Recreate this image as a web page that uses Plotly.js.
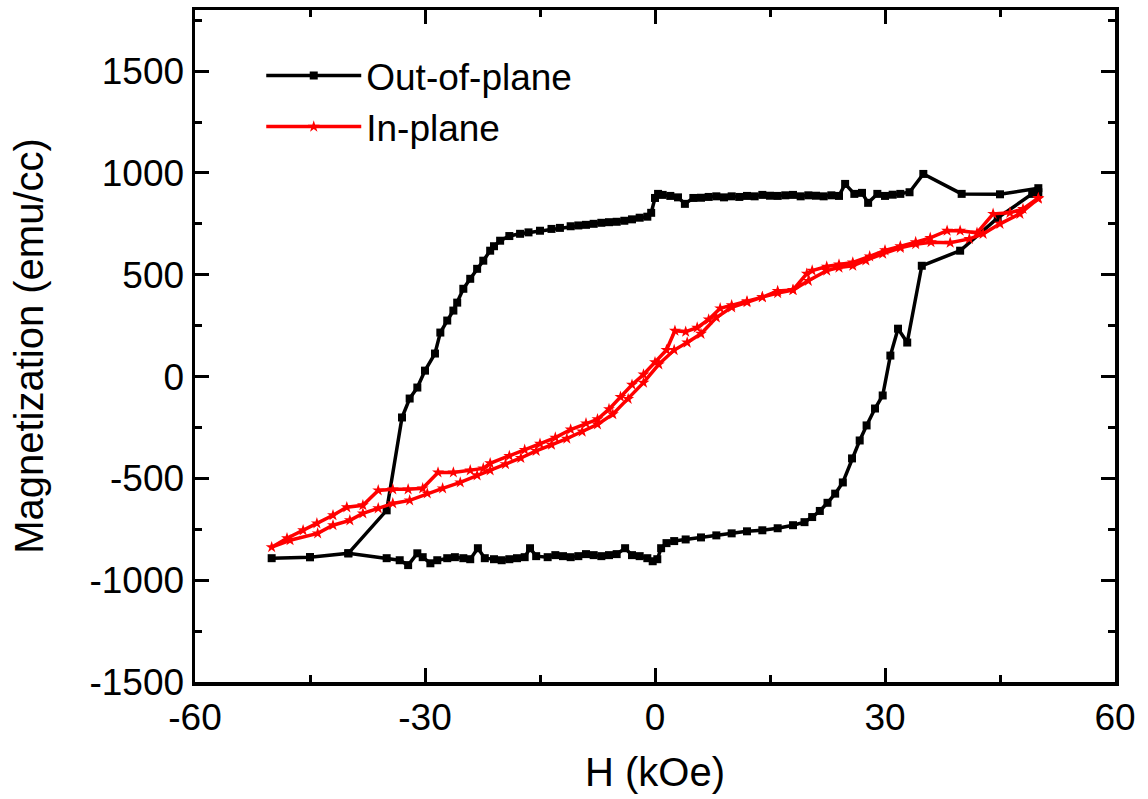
<!DOCTYPE html>
<html>
<head>
<meta charset="utf-8">
<script src="https://cdn.plot.ly/plotly-3.0.1.min.js"></script>
<style>
  html, body { margin: 0; padding: 0; background: #ffffff; }
  #chart { width: 1148px; height: 799px; }
</style>
</head>
<body>
<div id="chart"></div>
<script>
// Out-of-plane loop: field swept from +50 kOe down to -50 kOe, then back up
const outH = [
  50.0, 45.0, 40.0, 35.0, 33.2, 32.0, 31.0, 30.0, 29.0, 27.8, 27.0, 26.0, 24.8, 24.0,
  23.0, 22.0, 21.0, 20.0, 19.0, 18.0, 17.0, 16.0, 15.0, 14.0, 13.0, 12.0, 11.0, 10.0,
  9.0, 8.0, 7.0, 6.0, 5.0, 3.9, 3.0, 2.0, 1.0, 0.4, 0.0, -0.5, -1.0, -2.0, -3.0, -4.0,
  -5.0, -6.0, -7.0, -8.0, -9.0, -10.0, -11.0, -12.4, -13.5, -15.0, -16.5, -17.6, -19.0,
  -20.2, -21.0, -21.5, -22.4, -23.2, -24.1, -25.0, -25.8, -26.3, -27.1, -28.0, -28.7,
  -30.0, -31.0, -32.0, -33.0, -35.0, -40.0, -45.0, -50.0,
  -45.0, -40.0, -35.0, -33.3, -32.2, -31.0, -30.3, -29.3, -28.4, -27.1, -26.1, -25.0,
  -24.1, -23.1, -22.2, -21.0, -20.0, -19.0, -18.0, -17.0, -16.3, -15.5, -14.0, -13.0,
  -12.0, -11.0, -10.0, -9.0, -8.0, -7.0, -6.0, -5.0, -3.9, -3.0, -2.0, -1.0, -0.3, 0.3,
  0.8, 1.5, 2.5, 4.0, 6.0, 8.0, 10.0, 12.0, 14.0, 16.0, 18.0, 19.5, 20.5, 21.5, 22.5,
  23.5, 24.5, 25.7, 26.7, 27.6, 28.7, 29.7, 30.7, 31.7, 32.9, 34.8, 39.8, 44.7, 49.2, 50.0
];
const outM = [
  925, 895, 897, 995, 905, 897, 893, 887, 897, 853, 902, 897, 946, 887,
  890, 885, 888, 890, 885, 892, 890, 887, 888, 892, 885, 887, 882, 885,
  880, 885, 882, 878, 877, 848, 880, 887, 892, 897, 877, 804, 785, 780, 772, 765,
  760, 758, 755, 750, 745, 742, 738, 730, 725, 716, 708, 701, 690,
  667, 640, 618, 569, 529, 480, 431, 363, 324, 275, 216, 113,
  29, -54, -108, -201, -657, -868, -887, -892,
  -887, -868, -892, -902, -926, -868, -887, -917, -902, -892, -887, -892,
  -897, -843, -892, -897, -902, -897, -892, -887, -843, -882, -887, -877,
  -882, -887, -882, -872, -877, -882, -877, -872, -843, -877, -882, -892, -907, -897,
  -843, -818, -808, -800, -790, -780, -770, -760, -755, -745, -730, -715, -690, -660, -620,
  -575, -520, -402, -314, -240, -157, -93, 103, 235, 167, 544, 618, 779, 897, 905
];

// In-plane loop: same sweep order
const inH = [
  50.0, 48.0, 46.3, 44.1, 42.0, 39.8, 38.1, 35.9, 34.0, 32.0, 30.0, 28.0, 25.8, 24.0,
  22.4, 20.5, 19.8, 18.0, 16.0, 14.0, 12.0, 10.0, 8.5, 7.0, 5.5, 4.0, 2.6, 1.5, 0.0,
  -1.5, -3.0, -4.5, -6.0, -7.5, -9.0, -11.0, -13.0, -15.0, -17.0, -19.0, -21.5, -22.4,
  -24.1, -26.3, -28.3, -30.3, -32.2, -34.2, -36.1, -38.1, -40.2, -42.0, -44.1, -45.9,
  -48.0, -50.0,
  -47.6, -44.0, -42.0, -39.8, -38.1, -36.1, -34.2, -32.0, -29.7, -27.7, -25.4, -23.2,
  -21.5, -19.5, -17.5, -15.5, -13.5, -11.5, -9.5, -7.5, -5.5, -3.5, -1.5, 0.5, 2.5, 4.2,
  6.0, 8.0, 10.0, 12.0, 14.0, 16.0, 18.0, 20.0, 22.4, 24.0, 25.8, 27.5, 29.7, 32.0, 34.0,
  36.0, 38.5, 41.0, 42.8, 45.0, 47.6, 50.0
];
const inM = [
  877, 823, 804, 799, 706, 716, 716, 681, 660, 640, 620, 590, 560, 550,
  540, 520, 505, 425, 420, 390, 370, 350, 335, 280, 240, 220, 225, 130, 70,
  10, -40, -100, -160, -210, -230, -260, -300, -330, -360, -390, -426, -451,
  -461, -471, -471, -549, -554, -554, -559, -632, -642, -681, -721, -755,
  -794, -838,
  -804, -770, -730, -706, -672, -647, -623, -608, -574, -549, -520, -485,
  -461, -430, -400, -365, -335, -305, -270, -235, -185, -110, -30, 60, 130, 167,
  210, 290, 340, 365, 390, 410, 425, 470, 520, 535, 544, 570, 603, 632, 650,
  660, 657, 676, 701, 750, 799, 873
];

// Major tick positions and their labels (plain hyphen for negatives)
const xTickVals = [-60, -30, 0, 30, 60];
const xTickText = ['-60', '-30', '0', '30', '60'];
const yTickVals = [-1500, -1000, -500, 0, 500, 1000, 1500];
const yTickText = ['-1500', '-1000', '-500', '0', '500', '1000', '1500'];

const fontFamily = '"Liberation Sans", Arial, "DejaVu Sans", sans-serif';

const traces = [
  {
    x: outH, y: outM, name: 'Out-of-plane', type: 'scatter', mode: 'lines+markers',
    line: { color: '#000000', width: 3.5 },
    marker: { symbol: 'square', size: 8, color: '#000000' }
  },
  {
    x: inH, y: inM, name: 'In-plane', type: 'scatter', mode: 'lines+markers',
    line: { color: '#ff0000', width: 3.5 },
    marker: { symbol: 'star', size: 9, color: '#ff0000' }
  }
];

const axisCommon = {
  showline: true, linecolor: '#000000', linewidth: 3.5, mirror: 'ticks',
  ticks: 'inside', ticklen: 14, tickwidth: 3, tickcolor: '#000000',
  tickmode: 'array',
  showgrid: false, zeroline: false,
  tickfont: { family: fontFamily, size: 37, color: '#000000' }
};

const layout = {
  width: 1148, height: 799,
  margin: { l: 195, r: 33, t: 10, b: 117 },
  paper_bgcolor: '#ffffff', plot_bgcolor: '#ffffff',
  font: { family: fontFamily, color: '#000000' },
  showlegend: true,
  legend: {
    x: 0.072, y: 0.948, xanchor: 'left', yanchor: 'top',
    bgcolor: 'rgba(0,0,0,0)', borderwidth: 0,
    font: { family: fontFamily, size: 37, color: '#000000' },
    itemwidth: 95, tracegroupgap: 0
  },
  xaxis: Object.assign({}, axisCommon, {
    range: [-60, 60], tickvals: xTickVals, ticktext: xTickText,
    minor: { tickmode: 'linear', tick0: 0, dtick: 15, ticks: 'inside', ticklen: 7, tickwidth: 3, tickcolor: '#000000' },
    title: { text: 'H (kOe)', font: { family: fontFamily, size: 40, color: '#000000' }, standoff: 22 }
  }),
  yaxis: Object.assign({}, axisCommon, {
    range: [-1500, 1800], tickvals: yTickVals, ticktext: yTickText,
    minor: { tickmode: 'linear', tick0: 0, dtick: 250, ticks: 'inside', ticklen: 7, tickwidth: 3, tickcolor: '#000000' },
    title: { text: 'Magnetization (emu/cc)', font: { family: fontFamily, size: 40, color: '#000000' }, standoff: 34 }
  })
};

Plotly.newPlot('chart', traces, layout, { displayModeBar: false, staticPlot: true });
</script>
</body>
</html>
